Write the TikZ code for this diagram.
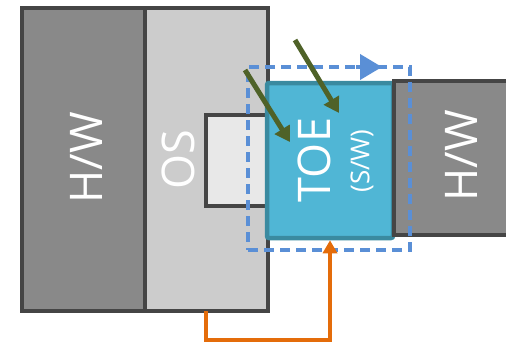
\documentclass[tikz,border=0pt]{standalone}
\usepackage{fontspec}
\setmainfont{Open Sans}
\usetikzlibrary{arrows.meta}
\usepackage{xcolor}
\definecolor{boxline}{HTML}{454545}
\definecolor{hwfill}{HTML}{898989}
\definecolor{osfill}{HTML}{CCCCCC}
\definecolor{slotfill}{HTML}{E8E8E8}
\definecolor{toefill}{HTML}{50B6D5}
\definecolor{toeline}{HTML}{3A8AA0}
\definecolor{flowblue}{HTML}{5A8FD6}
\definecolor{pushgreen}{HTML}{4F6228}
\definecolor{looporange}{HTML}{E46C0A}

\begin{document}
\begin{tikzpicture}[
    x=1pt,y=-1pt,every node/.style={rectangle, draw=boxline, line width=4.5pt, inner sep=0pt},
    lbl/.style={draw=none, text=white, rotate=90, font=\fontsize{45}{45}\selectfont},
    edge/.style={line width=5pt, pushgreen, -{Triangle[length=15pt,width=17pt]}}
]
    \useasboundingbox (0,0) rectangle (506,343);

    % host: H/W + OS
    \node[fill=hwfill, minimum width=123pt, minimum height=303pt] (hwl) at (83.5,159.5) {};
    \node[fill=osfill, minimum width=123pt, minimum height=303pt] (os) at (206.5,159.5) {};
    \node[fill=slotfill, minimum width=61pt, minimum height=91pt] (slot) at (236.5,160.5) {};

    % offload: TOE + H/W
    \node[fill=toefill, draw=toeline, rounded corners=2pt, minimum width=126pt, minimum height=155pt] (toe) at (330,160.5) {};
    \node[fill=hwfill, minimum width=140pt, minimum height=154pt] (hwr) at (464,158) {};

    \node[lbl] (hwltext) at (86,158) {H/W};
    \node[lbl] (ostext) at (178,160) {OS};
    \node[lbl] (toetext) at (314,160) {TOE};
    \node[lbl, font=\fontsize{26}{26}\selectfont] (swtext) at (362,161) {(S/W)};
    \node[lbl] (hwrtext) at (461,156) {H/W};

    % dashed zone
    \node[draw=flowblue, line width=4pt, dash pattern=on 10pt off 6pt, minimum width=162pt, minimum height=183pt] (zone) at (329,158.5) {};
    \coordinate (zonea) at (356,67);
    \coordinate (zoneb) at (382,67);
    \draw[flowblue, line width=4pt, -{Triangle[length=22pt,width=25pt]}] (zonea)--(zoneb);

    % pushes
    \coordinate (p1) at (245,70);
    \coordinate (q1) at (290,142);
    \coordinate (p2) at (295,40);
    \coordinate (q2) at (339,113);
    \draw[edge] (p1)--(q1);
    \draw[edge] (p2)--(q2);

    % loop back
    \coordinate (r) at (206,311);
    \coordinate (s) at (206,340);
    \draw[looporange, line width=4pt, -{Triangle[length=13pt,width=14pt]}] (r)--(s)-|(toe.south);
\end{tikzpicture}
\end{document}
